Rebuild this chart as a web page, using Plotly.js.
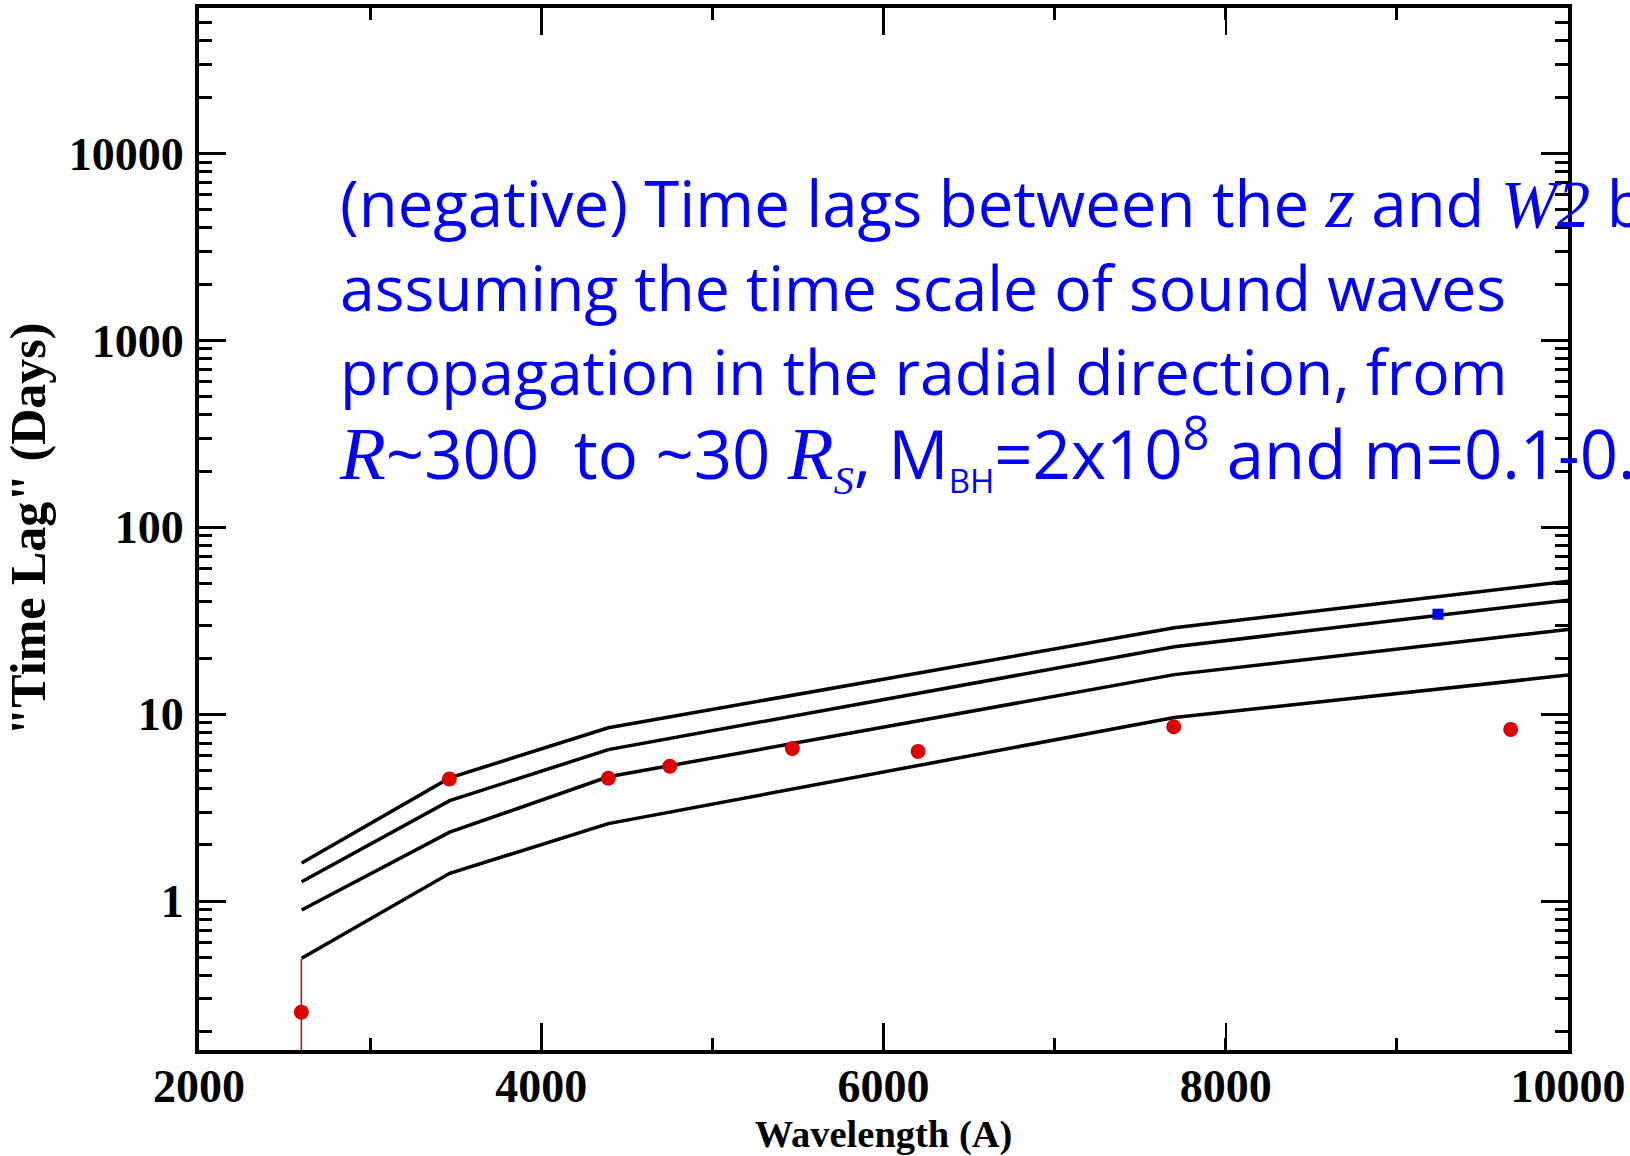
<!DOCTYPE html>
<html><head><meta charset="utf-8">
<script src="https://cdn.plot.ly/plotly-3.0.1.min.js"></script>
<style>html,body{margin:0;padding:0;background:#fff;}</style>
</head><body>
<div id="chart" style="width:1630px;height:1156px;"></div>
<script>
// Model curves (sound-wave propagation time lags)
const modelWavelengths = [2600, 3465, 4392, 7700, 10000];
const modelLagA = [1.60, 4.57, 8.47, 29.0, 51.5];
const modelLagB = [1.27, 3.45, 6.47, 23.0, 40.8];
const modelLagC = [0.897, 2.34, 4.63, 16.3, 28.4];
const modelLagD = [0.495, 1.41, 2.60, 9.62, 16.2];

// Observed lags (red)
const obsWavelengths = [2598, 3463, 4392, 4751, 5467, 6202, 7696, 9665];
const obsLags = [0.255, 4.51, 4.55, 5.27, 6.56, 6.33, 8.58, 8.30];
const obsErrPlus = [0.237, 0, 0, 0, 0, 0, 0, 0];
const obsErrMinus = [0.2, 0, 0, 0, 0, 0, 0, 0];

// z band point (blue)
const zWavelength = [9240];
const zLag = [34.3];

// Tick labels
const xTickVals = [2000, 4000, 6000, 8000, 10000];
const xTickText = ['2000', '4000', '6000', '8000', '10000'];
const yTickVals = [1, 10, 100, 1000, 10000];
const yTickText = ['1', '10', '100', '1000', '10000'];

const lineStyle = {color: 'black', width: 3.5};
const traces = [modelLagA, modelLagB, modelLagC, modelLagD].map(ys => ({
  x: modelWavelengths, y: ys, type: 'scatter', mode: 'lines',
  line: lineStyle, showlegend: false, hoverinfo: 'skip'
}));
traces.push({
  x: obsWavelengths, y: obsLags, type: 'scatter', mode: 'markers',
  marker: {color: 'rgb(220,0,0)', size: 15, symbol: 'circle'},
  error_y: {type: 'data', symmetric: false, array: obsErrPlus, arrayminus: obsErrMinus,
            color: 'rgb(220,0,0)', thickness: 1.5, width: 0},
  showlegend: false
});
traces.push({
  x: zWavelength, y: zLag, type: 'scatter', mode: 'markers',
  marker: {color: 'rgb(0,0,255)', size: 11, symbol: 'square'},
  showlegend: false
});

const tickFont = {family: 'Liberation Serif', size: 46, color: 'black', weight: 700};
const serifIt = (t, px) => '<span style="font-family:Liberation Serif;font-style:italic;font-size:' + (px || 75) + 'px">' + t + '</span>';
const sized = (px, t) => '<span style="font-size:' + px + 'px">' + t + '</span>';
const line1 = sized(63.5, '(negative) Time lags between the ' + serifIt('z') + ' and\u00a0' + serifIt('W2', 67) + ' bands');
const line2 = sized(62.4, 'assuming the time scale of sound waves');
const line3 = sized(62.4, 'propagation in the radial direction, from');
const line4 = sized(67, serifIt('R') + '~300\u00a0 to ~30 ' +
  serifIt('R<sub><span style="font-size:40px">S</span></sub>') +
  ', M<sub><span style="font-size:33px">BH</span></sub>=2x10<sup>8</sup> and m=0.1-0.5');
const annText = [line1, line2, line3, line4].join('<br>');

const layout = {
  width: 1630, height: 1156,
  margin: {l: 199, r: 62, t: 8, b: 106},
  paper_bgcolor: 'white', plot_bgcolor: 'white',
  showlegend: false,
  xaxis: {
    type: 'linear', range: [2000, 10000],
    tickvals: xTickVals, ticktext: xTickText,
    ticks: 'inside', ticklen: 27, tickwidth: 2.5, tickcolor: 'black',
    minor: {dtick: 1000, tick0: 2000, ticks: 'inside', ticklen: 12, tickwidth: 3, tickcolor: 'black', showgrid: false},
    showline: true, linecolor: 'black', linewidth: 4, mirror: 'ticks',
    showgrid: false, zeroline: false,
    tickfont: tickFont, ticklabelstandoff: -7,
    title: {text: 'Wavelength (A)', font: {family: 'Liberation Serif', size: 38.5, color: 'black', weight: 700}, standoff: 25}
  },
  yaxis: {
    type: 'log', range: [Math.log10(0.16), Math.log10(60000)],
    tickvals: yTickVals, ticktext: yTickText,
    ticks: 'inside', ticklen: 27, tickwidth: 3, tickcolor: 'black',
    minor: {dtick: 'D1', ticks: 'inside', ticklen: 13, tickwidth: 3, tickcolor: 'black', showgrid: false},
    showline: true, linecolor: 'black', linewidth: 4, mirror: 'ticks',
    showgrid: false, zeroline: false,
    tickfont: tickFont, ticklabelstandoff: 2,
    title: {text: '"Time Lag" (Days)', font: {family: 'Liberation Serif', size: 50, color: 'black', weight: 700}, standoff: 16}
  },
  annotations: [{
    xref: 'paper', yref: 'paper', x: 0.101, y: 0.857, xanchor: 'left', yanchor: 'top',
    align: 'left', showarrow: false, text: annText,
    font: {family: 'Open Sans', size: 64.5, color: 'rgb(0,0,255)'}
  }]
};

Plotly.newPlot('chart', traces, layout, {displayModeBar: false, staticPlot: true});
</script>
</body></html>
